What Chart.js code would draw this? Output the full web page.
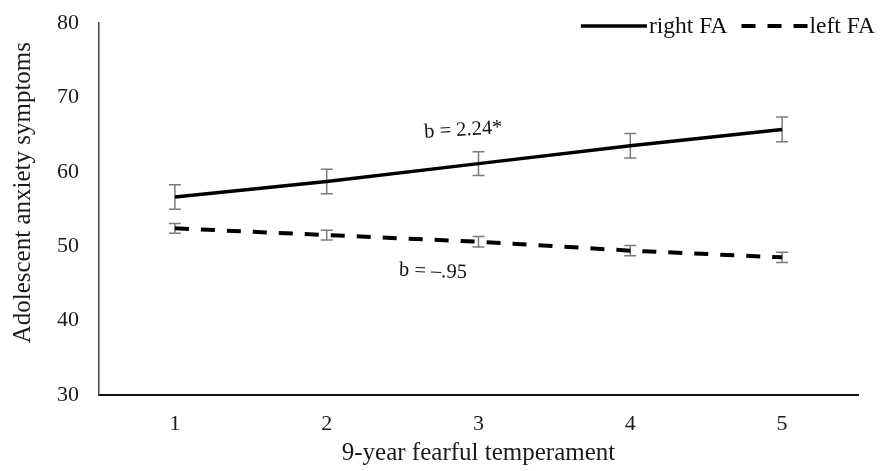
<!DOCTYPE html>
<html>
<head>
<meta charset="utf-8">
<script src="https://cdn.jsdelivr.net/npm/chart.js@4.4.1/dist/chart.umd.min.js"></script>
<style>
  html, body { margin: 0; padding: 0; background: #fff; }
  #wrap { width: 892px; height: 471px; position: relative; }
</style>
</head>
<body>
<div id="wrap"><canvas id="chart"></canvas></div>
<script>
// valeurs
const categories = ['1', '2', '3', '4', '5'];
const rightFA = [56.6, 58.7, 61.1, 63.5, 65.7];
const rightErr = [1.65, 1.65, 1.6, 1.65, 1.65];
const leftFA = [52.4, 51.5, 50.6, 49.4, 48.5];
const leftErr = [0.65, 0.65, 0.7, 0.7, 0.7];
const yTicks = [30, 40, 50, 60, 70, 80];
const seriesNames = ['right FA', 'left FA'];
const slopeLabels = ['b = 2.24*', 'b = \u2013.95'];
const yTitle = 'Adolescent anxiety symptoms';

const serif = "'Liberation Serif', 'Times New Roman', serif";

// segments verticaux des barres d'erreur (null = coupure)
function errorData(vals, errs) {
  let out = [];
  vals.forEach((v, i) => {
    out.push({x: categories[i], y: v - errs[i]});
    out.push({x: categories[i], y: v + errs[i]});
    out.push({x: categories[i], y: null});
  });
  return out;
}

const errStyle = {
  type: 'line',
  borderColor: '#7a7a7a',
  borderWidth: 1.5,
  pointStyle: 'line',
  pointRadius: 6,
  pointBorderColor: '#7a7a7a',
  pointBorderWidth: 1.5,
  spanGaps: false,
  order: 2
};

// légende, titre vertical et annotations b
const extras = {
  id: 'extras',
  afterDatasetsDraw(chart) {
    const ctx = chart.ctx;
    const xs = chart.scales.x, ys = chart.scales.y;
    ctx.save();
    ctx.fillStyle = '#111';
    ctx.font = '23.5px ' + serif;
    ctx.textBaseline = 'middle';

    // légende en haut à droite
    let right = 875, ly = 26;
    for (let i = seriesNames.length - 1; i >= 0; i--) {
      const ds = chart.data.datasets[i];
      const w = ctx.measureText(seriesNames[i]).width;
      ctx.textAlign = 'left';
      ctx.fillText(seriesNames[i], right - w, ly + 1);
      const lineEnd = right - w - 2;
      ctx.beginPath();
      ctx.setLineDash(ds.borderDash || []);
      ctx.lineWidth = ds.borderWidth;
      ctx.strokeStyle = ds.borderColor;
      ctx.moveTo(lineEnd - 66, ly);
      ctx.lineTo(lineEnd, ly);
      ctx.stroke();
      right = lineEnd - 66 - 14;
    }
    ctx.setLineDash([]);

    // titre de l'axe y (un peu au-dessus du centre, comme l'original)
    ctx.save();
    ctx.fillStyle = '#1a1a1a';
    ctx.font = '25px ' + serif;
    ctx.textAlign = 'center';
    ctx.translate(23, ys.getPixelForValue(57.2));
    ctx.rotate(-Math.PI / 2);
    ctx.fillText(yTitle, 0, 0);
    ctx.restore();

    // pentes
    const pos = [[1.9, 65.6, -0.06], [1.7, 46.6, 0.04]];
    ctx.font = '20.5px ' + serif;
    ctx.textAlign = 'center';
    slopeLabels.forEach((t, i) => {
      ctx.save();
      ctx.translate(xs.getPixelForValue(pos[i][0]), ys.getPixelForValue(pos[i][1]));
      ctx.rotate(pos[i][2]);
      ctx.fillText(t, 0, 0);
      ctx.restore();
    });
    ctx.restore();
  }
};

new Chart(document.getElementById('chart'), {
  type: 'line',
  data: {
    labels: categories,
    datasets: [
      {
        label: seriesNames[0],
        data: rightFA,
        borderColor: '#000',
        borderWidth: 3.5,
        pointRadius: 0,
        order: 0
      },
      {
        label: seriesNames[1],
        data: leftFA,
        borderColor: '#000',
        borderWidth: 4,
        borderDash: [14, 12],
        pointRadius: 0,
        order: 1
      },
      Object.assign({label: 'err right', data: errorData(rightFA, rightErr)}, errStyle),
      Object.assign({label: 'err left', data: errorData(leftFA, leftErr)}, errStyle)
    ]
  },
  options: {
    responsive: true,
    maintainAspectRatio: false,
    animation: false,
    layout: { padding: { top: 23, right: 34, left: 0, bottom: 0 } },
    plugins: {
      legend: { display: false },
      tooltip: { enabled: false }
    },
    scales: {
      x: {
        type: 'category',
        offset: true,
        grid: { display: false, drawTicks: false },
        border: { display: true, color: '#111', width: 2 },
        ticks: { color: '#1a1a1a', padding: 16, font: { family: serif, size: 22 } },
        title: {
          display: true,
          text: '9-year fearful temperament',
          color: '#1a1a1a',
          font: { family: serif, size: 25 },
          padding: { top: 3, bottom: 3 }
        },
        afterFit(s) { s.height = 76; }
      },
      y: {
        min: 30,
        max: 80,
        grid: { display: false, drawTicks: false },
        border: { display: true, color: '#444', width: 1.5 },
        afterBuildTicks(s) { s.ticks = yTicks.map(v => ({value: v})); },
        ticks: { color: '#1a1a1a', padding: 20, font: { family: serif, size: 22 } },
        afterFit(s) {
          s.width = 99;
          s.paddingTop = 12;
          s.paddingBottom = 12;
        }
      }
    }
  },
  plugins: [extras]
});
</script>
</body>
</html>
